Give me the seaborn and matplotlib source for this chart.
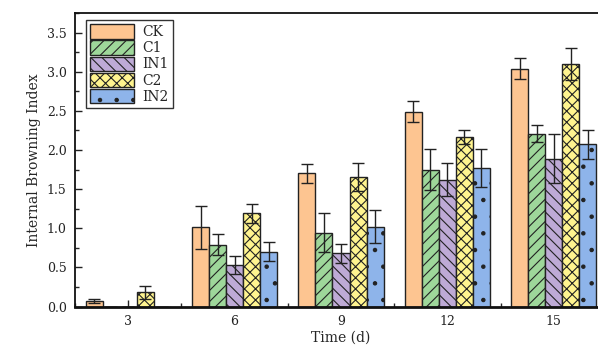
import numpy as np
import pandas as pd
import matplotlib
matplotlib.use("Agg")
import matplotlib.pyplot as plt
import seaborn as sns
from matplotlib.ticker import MultipleLocator

days = ["3", "6", "9", "12", "15"]
groups = ["CK", "C1", "IN1", "C2", "IN2"]
ck = [0.07, 1.01, 1.70, 2.49, 3.04]
ck_err = [0.02, 0.27, 0.12, 0.13, 0.13]
c1 = [0.0, 0.79, 0.94, 1.75, 2.21]
c1_err = [0.0, 0.13, 0.25, 0.26, 0.11]
in1 = [0.0, 0.53, 0.68, 1.62, 1.89]
in1_err = [0.0, 0.12, 0.12, 0.21, 0.31]
c2 = [0.18, 1.19, 1.65, 2.17, 3.10]
c2_err = [0.08, 0.12, 0.18, 0.09, 0.20]
in2 = [0.0, 0.70, 1.02, 1.77, 2.07]
in2_err = [0.0, 0.12, 0.21, 0.24, 0.18]

colors = ["#FDC591", "#9ED79A", "#BEAAD6", "#FFF48F", "#8EB4EA"]
hatches = ["", "///", "\\\\\\", "xxx", "."]

means = [ck, c1, in1, c2, in2]
errs = [ck_err, c1_err, in1_err, c2_err, in2_err]
rows = []
for g, m, e in zip(groups, means, errs):
    for d, v, s in zip(days, m, e):
        rows.append({"day": d, "group": g, "value": v, "err": s})
df = pd.DataFrame(rows)

sns.set_theme(style="ticks")
plt.rcParams["font.family"] = ["DejaVu Serif"]
plt.rcParams["hatch.linewidth"] = 0.8

fig = plt.figure(figsize=(5.98, 3.45), dpi=100)
ax = fig.add_axes([75 / 598, 38.5 / 345, 532 / 598, 293.5 / 345])

sns.barplot(data=df, x="day", y="value", hue="group", order=days, hue_order=groups,
            palette=colors, saturation=1, errorbar=None, width=0.8, edgecolor="#222222",
            linewidth=1.0, ax=ax)

handles = []
for cont, h, g in zip(ax.containers, hatches, groups):
    sub = df[df["group"] == g]
    xs = []
    for bar in cont:
        bar.set_hatch(h)
        xs.append(bar.get_x() + bar.get_width() / 2)
    ax.errorbar(xs, sub["value"], yerr=sub["err"], fmt="none", ecolor="#222222",
                elinewidth=1.0, capsize=4, capthick=1.0)
    handles.append(cont[0])

ax.legend(handles=handles, labels=groups, loc="upper left", bbox_to_anchor=(0.012, 0.99),
          frameon=True, fancybox=False, edgecolor="black", fontsize=10,
          handlelength=3.2, handleheight=1.2, labelspacing=0.1, borderpad=0.3,
          handletextpad=0.6, borderaxespad=0.3)

ax.set_xlim(-0.5, 4.5)
ax.set_ylim(0, 3.75)
ax.yaxis.set_major_locator(MultipleLocator(0.5))
ax.yaxis.set_minor_locator(MultipleLocator(0.25))
ax.set_xticks(np.arange(-0.5, 5, 1.0), minor=True)
ax.set_yticklabels([f"{v:.1f}" for v in ax.get_yticks()])
ax.tick_params(axis="both", which="major", direction="in", length=5, width=1, labelsize=9,
               colors="#222222", pad=6)
ax.tick_params(axis="both", which="minor", direction="in", length=3, width=1)
for sp in ax.spines.values():
    sp.set_linewidth(1.3)
    sp.set_color("#111111")
ax.spines["bottom"].set_linewidth(2)
ax.set_xlabel("Time (d)", fontsize=10, labelpad=2)
ax.set_ylabel("Internal Browning Index", fontsize=10, labelpad=4)

fig.savefig("out.png", dpi=100)
